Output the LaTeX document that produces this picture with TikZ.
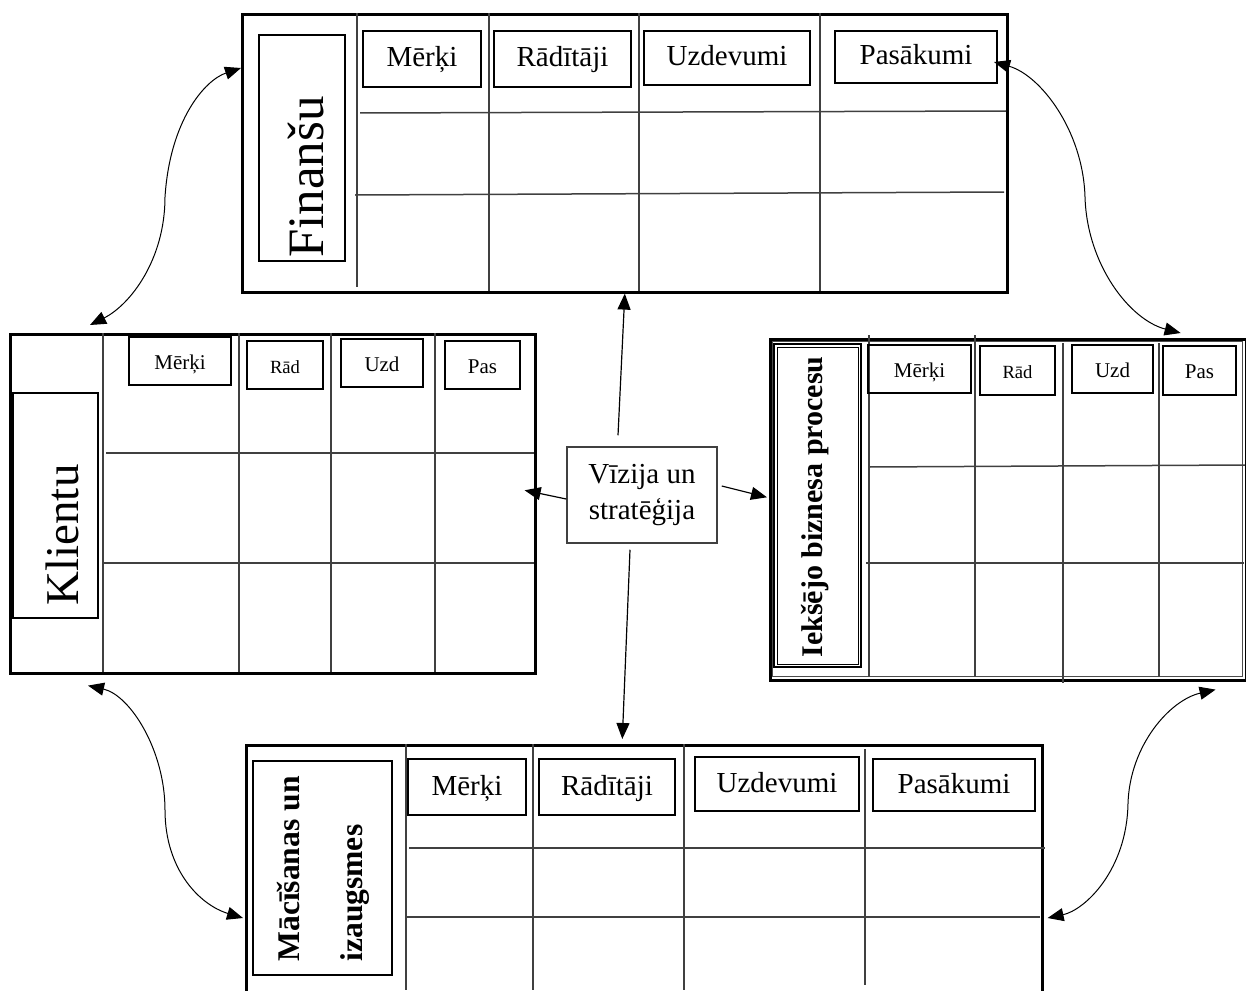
\documentclass[tikz,border=0pt]{standalone}
\usepackage{fontspec}
\setmainfont{Liberation Serif}
\usetikzlibrary{arrows.meta}
\newcommand\hdtxt{\fontsize{14.5}{17}\selectfont}
\newcommand\smtxt{\fontsize{10.5}{12}\selectfont}
\newcommand\rdtxt{\fontsize{9.3}{11}\selectfont}
\begin{document}
\begin{tikzpicture}[x=0.5pt,y=-0.5pt,
  sz/.style 2 args={minimum width=#1*0.5pt,minimum height=#2*0.5pt},
  frame/.style={draw,line width=1.3pt,inner sep=0pt,anchor=north west},
  lab/.style={draw,line width=1pt,inner sep=0pt},
  head/.style={draw,line width=1pt,inner sep=0pt,text height=0.9em,text depth=0.1em},
  grid/.style={draw=black!75,line width=0.75pt},
  txt/.style={inner sep=0pt,rotate=90},
  tip/.style={-{Triangle[length=8pt,width=6.5pt]},line width=0.6pt},
  both/.style={{Triangle[length=8pt,width=6.5pt]}-{Triangle[length=8pt,width=6.5pt]},line width=0.5pt}]
\useasboundingbox (0,0) rectangle (1246,990);
\node[frame,sz={765}{278}] (fin) at (241,13) {};
\node[frame,sz={525}{339}] (kli) at (9,333) {};
\node[frame,sz={476}{341}] (iek) at (769,338) {};
\node[frame,sz={796}{260}] (mac) at (245,744) {};
\draw[black!70,line width=0.4pt] (772,341) rectangle (1242,676);
\draw[grid] (357,13) -- (357,287);
\foreach \x in {489,639,820} \draw[grid] (\x,13) -- (\x,291);
\draw[grid] (360,113) -- (1006,111);
\draw[grid] (355,195) -- (1004,192);
\foreach \x in {103,239,331,435} \draw[grid] (\x,333) -- (\x,672);
\draw[grid] (106,453) -- (534,453);
\draw[grid] (103,563) -- (534,563);
\foreach \x/\a/\b in {869/335/677,975/335/677,1063/343/683,1159/343/677} \draw[grid] (\x,\a) -- (\x,\b);
\draw[grid] (869,467) -- (1245,465);
\draw[grid] (866,563) -- (1244,563);
\foreach \x/\a/\b in {406/744/990,533/744/990,684/744/990,865/749/985} \draw[grid] (\x,\a) -- (\x,\b);
\draw[grid] (409,848) -- (1045,848);
\draw[grid] (405,917) -- (1040,917);
\node[lab,sz={86}{226}] (finl) at (302,148) {};
\node[txt,font=\fontsize{25.5}{28}\selectfont] (fint) at (306,177) {Finanšu};
\node[lab,sz={85}{225}] (klil) at (55.5,505.5) {};
\node[txt,font=\fontsize{23.5}{26}\selectfont] (klit) at (62,535) {Klientu};
\node[lab,sz={87}{323}] (iekl) at (817.5,505.5) {};
\draw[line width=0.4pt] (777,347) rectangle (858,664);
\node[txt,font=\fontsize{15}{18}\selectfont\bfseries] (iekt) at (815,507) {Iekšējo biznesa procesu};
\node[lab,sz={139}{214}] (macl) at (322.5,868) {};
\node[txt,anchor=west,align=left,font=\fontsize{15.8}{31.5}\selectfont\bfseries] (mact) at (323,962) {Mācīšanas un\\izaugsmes};
\node[head,sz={118}{56},font=\hdtxt] (fm) at (422,59) {Mērķi};
\node[head,sz={137}{56},font=\hdtxt] (fr) at (562.5,59) {Rādītāji};
\node[head,sz={166}{54},font=\hdtxt] (fu) at (727,58) {Uzdevumi};
\node[head,sz={162}{52},font=\hdtxt] (fp) at (916,57) {Pasākumi};
\node[head,sz={102}{48},font=\smtxt] (km) at (180,361) {Mērķi};
\node[head,sz={76}{48},font=\rdtxt] (kr) at (285,365) {Rād};
\node[head,sz={82}{48},font=\smtxt] (ku) at (382,363) {Uzd};
\node[head,sz={75}{48},font=\smtxt] (kp) at (482.5,365) {Pas};
\node[head,sz={103}{48},font=\smtxt] (im) at (919.5,369) {Mērķi};
\node[head,sz={75}{49},font=\rdtxt] (ir) at (1017.5,370.5) {Rād};
\node[head,sz={81}{48},font=\smtxt] (iu) at (1112.5,369) {Uzd};
\node[head,sz={73}{49},font=\smtxt] (ip) at (1199.5,370.5) {Pas};
\node[head,sz={118}{56},font=\hdtxt] (mm) at (467,787) {Mērķi};
\node[head,sz={136}{56},font=\hdtxt] (mr) at (607,787) {Rādītāji};
\node[head,sz={164}{54},font=\hdtxt] (mu) at (777,784) {Uzdevumi};
\node[head,sz={162}{52},font=\hdtxt] (mp) at (954,785) {Pasākumi};
\node[draw=black!75,line width=0.75pt,sz={150}{96},align=center,font=\fontsize{14.5}{18}\selectfont] (vis) at (642,495) {Vīzija un\\stratēģija};
\draw[tip] ([xshift=-12pt,yshift=5.5pt]vis.north) -- (fin.south);
\draw[tip] ([yshift=-2pt]vis.west) -- ([xshift=-6pt,yshift=6.75pt]kli.east);
\draw[tip] ([xshift=2pt,yshift=4.5pt]vis.east) -- ([xshift=-1pt,yshift=6.25pt]iek.west);
\draw[tip] ([xshift=-6pt,yshift=-3pt]vis.south) -- ([xshift=-11pt,yshift=2.5pt]mac.north);
\draw[both] ([yshift=-27.5pt]fin.north west) .. controls (205,80) and (170,120) .. (165,197) .. controls (165,260) and (130,305) .. ([xshift=40.5pt,yshift=4pt]kli.north west);
\draw[both] ([xshift=-2pt,yshift=-2.5pt]fp.east) .. controls (1040,75) and (1083,130) .. (1085,197) .. controls (1087,265) and (1130,320) .. ([xshift=-33.5pt,yshift=2.5pt]iek.north east);
\draw[both] ([xshift=39.5pt,yshift=-5.5pt]kli.south west) .. controls (130,695) and (165,750) .. (165,810) .. controls (165,870) and (200,905) .. ([xshift=-1pt,yshift=-87pt]mac.north west);
\draw[both] ([xshift=-16pt,yshift=-4pt]iek.south east) .. controls (1170,700) and (1130,745) .. (1128,803) .. controls (1127,870) and (1085,910) .. ([xshift=2pt,yshift=-87pt]mac.north east);
\end{tikzpicture}
\end{document}
